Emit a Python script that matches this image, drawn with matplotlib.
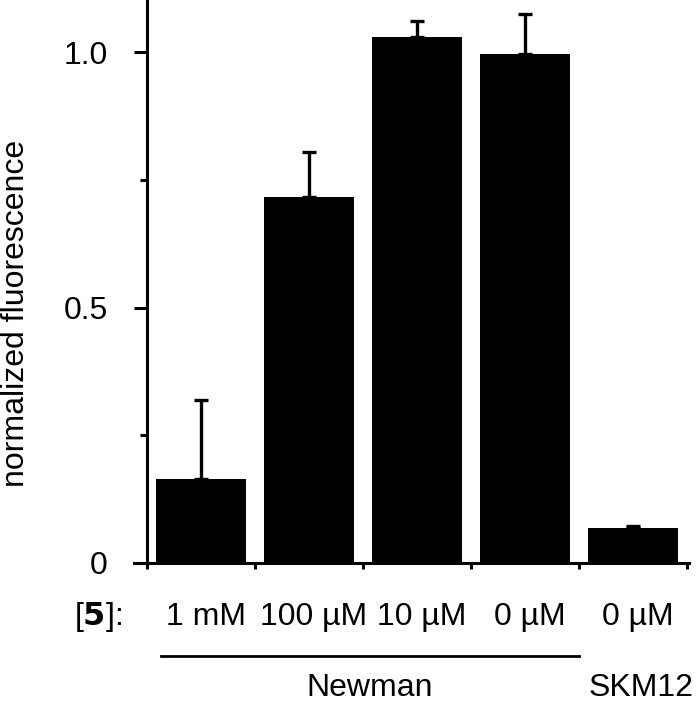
import matplotlib
matplotlib.use("Agg")
import matplotlib.pyplot as plt
from matplotlib.lines import Line2D
import matplotlib.transforms as mtransforms

plt.rcParams['font.family'] = ['Liberation Sans', 'DejaVu Sans']

labels = ["1 mM", "100 µM", "10 µM", "0 µM", "0 µM"]
values = [0.164, 0.716, 1.030, 0.997, 0.069]
errors = [0.156, 0.089, 0.030, 0.078, 0.004]
yticks_major = [0, 0.5, 1.0]
ytick_labels = ["0", "0.5", "1.0"]
yticks_minor = [0.25, 0.75]

FS = 23
W, H = 698, 704
fig = plt.figure(figsize=(W / 100, H / 100), dpi=100)
ax = fig.add_axes([147 / W, (H - 563) / H, 540 / W, 563 / H])

x = list(range(len(values)))
ax.bar(x, values, width=0.84, color="black", zorder=2)
ax.errorbar(x, values, yerr=[[0] * len(errors), errors], fmt="none",
            ecolor="black", elinewidth=2.4, capsize=5.3, capthick=2.4, zorder=3)

ax.set_xlim(-0.5, 4.5)
ax.set_ylim(0, 1.102)

for s in ["top", "right", "bottom"]:
    ax.spines[s].set_visible(False)
ax.spines["left"].set_linewidth(2.2)

# bottom axis line, slightly overhanging left
ax.add_line(Line2D([-0.024, 1.004], [0, 0], transform=ax.transAxes,
                   color="black", linewidth=2.2, clip_on=False, zorder=4))

ax.set_yticks(yticks_major)
ax.set_yticklabels(ytick_labels, fontsize=FS)
ax.set_yticks(yticks_minor, minor=True)
ax.tick_params(axis="y", which="major", length=9.4, width=2.2, pad=19)
ax.tick_params(axis="y", which="minor", length=5, width=2.2)

ax.set_xticks([i - 0.5 for i in range(len(values) + 1)])
ax.set_xticklabels([])
ax.tick_params(axis="x", which="major", length=4.5, width=2.2, direction="out")
ax.set_xticks(x, minor=True)
ax.set_xticklabels(labels, minor=True, fontsize=FS)
ax.tick_params(axis="x", which="minor", length=0, pad=28)
shift = mtransforms.ScaledTranslation(5 / 100, 0, fig.dpi_scale_trans)
for lbl in ax.get_xticklabels(minor=True):
    lbl.set_transform(lbl.get_transform() + shift)

ax.set_ylabel("normalized fluorescence", fontsize=FS)
ax.yaxis.set_label_coords(-0.214, 0.444)

fig.text(122 / W, 1 - 617 / H, "[$\\mathbf{5}$]:", fontsize=FS,
         ha="right", va="center")
fig.add_artist(Line2D([161 / W, 579 / W], [1 - 656 / H, 1 - 656 / H],
                      color="black", linewidth=2.0))
fig.text(370 / W, 1 - 688 / H, "Newman", fontsize=FS, ha="center", va="center")
fig.text(641 / W, 1 - 688 / H, "SKM12", fontsize=FS, ha="center", va="center")

fig.savefig("out.png", dpi=100)
